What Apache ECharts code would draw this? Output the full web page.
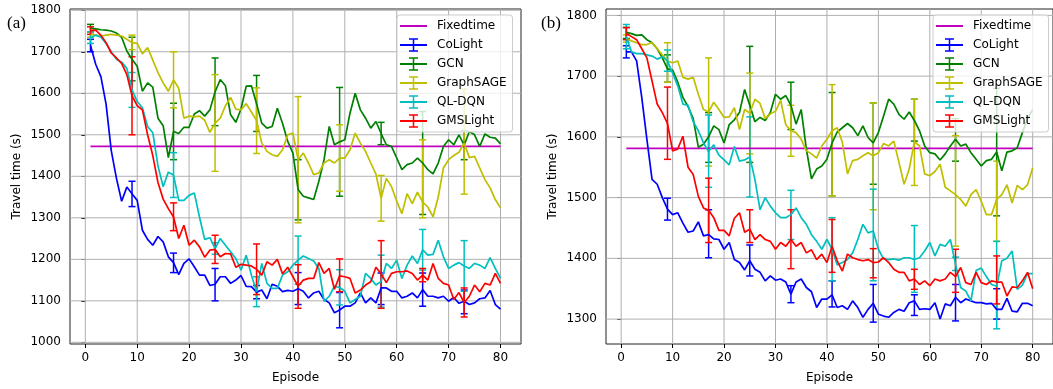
<!DOCTYPE html>
<html><head><meta charset="utf-8">
<script src="https://cdn.jsdelivr.net/npm/echarts@6/dist/echarts.min.js"></script>
<style>html,body{margin:0;padding:0;background:#fff}#c{width:1053px;height:389px}</style>
</head><body><div id="c"></div>
<script>
// ---------------- DATA ----------------
const episodes = [1,2,3,4,5,6,7,8,9,10,11,12,13,14,15,16,17,18,19,20,21,22,23,24,25,26,27,28,29,30,31,32,33,34,35,36,37,38,39,40,41,42,43,44,45,46,47,48,49,50,51,52,53,54,55,56,57,58,59,60,61,62,63,64,65,66,67,68,69,70,71,72,73,74,75,76,77,78,79,80];
const errEpisodes = [1,9,17,25,33,41,49,57,65,73];
const xTicks = [0,10,20,30,40,50,60,70,80];
const yTicksA = [1000,1100,1200,1300,1400,1500,1600,1700,1800];
const yTicksB = [1300,1400,1500,1600,1700,1800];
const seriesNames = ['Fixedtime','CoLight','GCN','GraphSAGE','QL-DQN','GMSLight'];

// Panel (a)
const fixedtimeA = 1472;
const coLightA = [1715,1670,1640,1574,1462,1395,1340,1374,1358,1342,1270,1248,1234,1255,1242,1206,1192,1163,1190,1201,1182,1162,1162,1137,1140,1158,1158,1142,1150,1161,1135,1134,1121,1126,1105,1140,1135,1122,1125,1123,1129,1123,1107,1119,1123,1103,1095,1071,1078,1087,1087,1095,1119,1095,1107,1095,1131,1131,1123,1123,1107,1111,1119,1107,1127,1111,1111,1107,1111,1099,1108,1094,1099,1091,1095,1105,1107,1125,1091,1080];
const gcnA = [1757,1755,1753,1752,1750,1745,1735,1702,1682,1665,1605,1625,1615,1540,1522,1445,1508,1503,1518,1518,1550,1558,1545,1560,1603,1633,1618,1548,1530,1562,1617,1618,1575,1528,1516,1520,1564,1528,1484,1456,1368,1352,1348,1344,1388,1440,1520,1476,1483,1488,1552,1600,1560,1540,1516,1532,1503,1476,1472,1444,1416,1428,1432,1444,1432,1416,1406,1432,1472,1488,1476,1500,1475,1508,1500,1472,1502,1494,1492,1478];
const graphSageA = [1742,1740,1738,1740,1742,1740,1738,1730,1722,1720,1695,1710,1680,1650,1625,1605,1632,1612,1540,1545,1543,1545,1535,1506,1528,1540,1570,1590,1562,1560,1575,1555,1534,1480,1460,1452,1448,1464,1500,1504,1440,1456,1432,1404,1408,1432,1440,1432,1444,1444,1464,1504,1480,1460,1432,1405,1347,1395,1375,1340,1310,1358,1334,1362,1338,1326,1302,1350,1420,1440,1450,1458,1480,1445,1448,1420,1392,1372,1344,1324];
const qlDqnA = [1734,1740,1735,1720,1700,1682,1675,1660,1608,1580,1565,1520,1505,1425,1375,1410,1403,1342,1342,1354,1360,1302,1248,1252,1226,1250,1234,1218,1202,1174,1210,1162,1122,1190,1142,1130,1130,1162,1170,1186,1198,1208,1202,1196,1178,1099,1111,1135,1132,1123,1095,1103,1111,1166,1154,1138,1147,1190,1178,1198,1154,1186,1208,1190,1223,1210,1212,1246,1206,1178,1186,1192,1184,1178,1190,1186,1178,1204,1178,1154];
const gmsLightA = [1751,1752,1740,1722,1697,1685,1672,1645,1594,1570,1560,1500,1450,1385,1345,1322,1302,1250,1282,1234,1246,1230,1205,1222,1224,1206,1214,1213,1181,1188,1186,1184,1176,1162,1194,1186,1200,1165,1181,1158,1135,1150,1154,1154,1192,1166,1178,1128,1160,1158,1154,1119,1126,1138,1146,1181,1165,1144,1166,1170,1170,1172,1166,1150,1162,1150,1190,1154,1142,1138,1103,1120,1096,1111,1138,1122,1142,1138,1166,1142];
const coLightA_lo = [1700,1327,1168,1100,1105,1091,1035,1091,1087,1069];
const coLightA_hi = [1730,1388,1215,1178,1137,1168,1120,1167,1167,1126];
const gcnA_lo = [1748,1630,1440,1522,1508,1295,1352,1476,1308,1440];
const gcnA_hi = [1766,1735,1576,1685,1643,1440,1614,1530,1556,1510];
const graphSageA_lo = [1735,1705,1565,1412,1455,1288,1364,1292,1300,1357];
const graphSageA_hi = [1748,1740,1700,1645,1613,1592,1524,1402,1488,1610];
const qlDqnA_lo = [1720,1566,1349,1212,1086,1140,1090,1085,1174,1123];
const qlDqnA_hi = [1748,1650,1457,1240,1158,1256,1175,1210,1272,1245];
const gmsLightA_lo = [1742,1500,1269,1190,1115,1082,1122,1082,1146,1061];
const gmsLightA_hi = [1760,1688,1336,1258,1237,1187,1201,1245,1178,1131];

// Panel (b)
const fixedtimeB = 1581;
const coLightB = [1740,1740,1725,1665,1596,1530,1522,1500,1481,1472,1475,1458,1443,1445,1460,1437,1439,1432,1431,1415,1426,1398,1393,1381,1396,1382,1377,1363,1371,1364,1366,1361,1341,1361,1366,1352,1345,1319,1333,1333,1340,1319,1322,1316,1330,1319,1303,1316,1326,1308,1305,1303,1311,1316,1313,1327,1330,1316,1317,1316,1327,1300,1325,1322,1336,1327,1333,1330,1327,1327,1325,1326,1316,1316,1334,1313,1312,1326,1326,1322];
const gcnB = [1772,1770,1767,1768,1760,1755,1745,1730,1712,1710,1690,1665,1650,1630,1583,1588,1600,1618,1612,1590,1620,1628,1640,1678,1652,1625,1632,1627,1640,1670,1662,1668,1652,1621,1645,1580,1531,1547,1552,1563,1590,1608,1615,1622,1615,1602,1618,1599,1590,1607,1634,1662,1654,1637,1629,1641,1627,1610,1585,1574,1572,1562,1572,1585,1596,1585,1588,1574,1563,1552,1561,1563,1575,1544,1575,1577,1582,1607,1630,1645];
const graphSageB = [1762,1758,1755,1752,1752,1755,1745,1735,1725,1722,1725,1698,1695,1698,1670,1645,1641,1657,1645,1632,1633,1648,1612,1645,1639,1662,1655,1630,1638,1642,1660,1620,1610,1607,1596,1577,1572,1565,1585,1596,1610,1615,1591,1539,1561,1563,1569,1574,1569,1574,1589,1585,1593,1558,1522,1547,1592,1585,1539,1536,1543,1555,1517,1511,1505,1497,1486,1505,1513,1494,1472,1472,1497,1505,1521,1491,1520,1513,1521,1549];
const qlDqnB = [1765,1740,1737,1737,1735,1733,1728,1732,1725,1705,1684,1654,1652,1625,1610,1590,1576,1587,1570,1562,1554,1584,1560,1562,1567,1530,1480,1500,1486,1475,1467,1467,1472,1483,1467,1456,1439,1428,1415,1431,1415,1389,1393,1398,1409,1431,1456,1442,1445,1415,1399,1398,1399,1397,1401,1401,1398,1401,1412,1426,1404,1423,1420,1431,1390,1352,1346,1330,1380,1384,1370,1357,1354,1396,1400,1412,1349,1356,1375,1375];
const gmsLightB = [1770,1765,1760,1745,1730,1692,1654,1640,1622,1577,1580,1601,1550,1538,1502,1483,1479,1467,1446,1446,1437,1466,1475,1443,1448,1431,1439,1431,1428,1415,1426,1420,1431,1420,1426,1409,1414,1398,1407,1393,1420,1396,1379,1407,1401,1398,1396,1398,1393,1394,1401,1393,1382,1377,1377,1363,1366,1357,1363,1355,1366,1363,1366,1377,1370,1385,1360,1357,1377,1360,1357,1363,1361,1361,1338,1353,1352,1363,1377,1350];
const coLightB_lo = [1730,1463,1401,1371,1327,1320,1295,1306,1297,1300];
const coLightB_hi = [1750,1499,1480,1422,1355,1363,1357,1340,1357,1350];
const gcnB_lo = [1762,1690,1558,1558,1612,1503,1522,1593,1560,1470];
const gcnB_hi = [1780,1735,1640,1749,1690,1673,1656,1662,1630,1680];
const graphSageB_lo = [1756,1690,1552,1572,1568,1503,1480,1520,1420,1428];
const graphSageB_hi = [1768,1755,1730,1705,1652,1686,1656,1662,1602,1560];
const qlDqnB_lo = [1745,1708,1517,1501,1431,1363,1363,1344,1380,1284];
const qlDqnB_hi = [1785,1743,1636,1633,1512,1467,1514,1454,1402,1428];
const gmsLightB_lo = [1760,1563,1426,1426,1383,1377,1368,1349,1344,1325];
const gmsLightB_hi = [1780,1682,1532,1480,1480,1464,1416,1382,1415,1404];

// ---------------- STYLE ----------------
const COLORS = {Fixedtime:'#bf00bf', CoLight:'#0000ff', GCN:'#008000', GraphSAGE:'#bfbf00', 'QL-DQN':'#00bfbf', GMSLight:'#ff0000'};
const FONT = 'DejaVu Sans';
const LW = 1.7;

function errRender(params, api) {
  const x = api.value(0), lo = api.value(1), hi = api.value(2);
  const a = api.coord([x, lo]), b = api.coord([x, hi]);
  const cap = 3.5;
  const st = {stroke: api.visual('color'), lineWidth: 1.5, fill: null};
  return {type:'group', children:[
    {type:'line', shape:{x1:a[0], y1:a[1], x2:b[0], y2:b[1]}, style:st},
    {type:'line', shape:{x1:a[0]-cap, y1:a[1], x2:a[0]+cap, y2:a[1]}, style:st},
    {type:'line', shape:{x1:b[0]-cap, y1:b[1], x2:b[0]+cap, y2:b[1]}, style:st}
  ]};
}
function vGridRender(params, api) {
  const cs = params.coordSys;
  const p = api.coord([api.value(0), api.value(1)]);
  return {type:'line', shape:{x1:p[0], y1:cs.y, x2:p[0], y2:cs.y+cs.height}, style:{stroke:'#b0b0b0', lineWidth:1}};
}
function hGridRender(params, api) {
  const cs = params.coordSys;
  const p = api.coord([api.value(0), api.value(1)]);
  return {type:'line', shape:{x1:cs.x, y1:p[1], x2:cs.x+cs.width, y2:p[1]}, style:{stroke:'#b0b0b0', lineWidth:1}};
}

function lineS(name, vals, gi) {
  return {type:'line', name, xAxisIndex:gi, yAxisIndex:gi, data: episodes.map((e,i)=>[e, vals[i]]),
    symbol:'none', showSymbol:false, lineStyle:{color:COLORS[name], width:LW}, itemStyle:{color:COLORS[name]},
    animation:false, silent:true, z:3};
}
function fixedS(name, v, gi) {
  return {type:'line', name, xAxisIndex:gi, yAxisIndex:gi, data: [[episodes[0], v],[episodes[episodes.length-1], v]],
    symbol:'none', showSymbol:false, lineStyle:{color:COLORS[name], width:LW}, itemStyle:{color:COLORS[name]},
    animation:false, silent:true, z:3};
}
function errS(name, lo, hi, gi) {
  return {type:'custom', name, xAxisIndex:gi, yAxisIndex:gi, data: errEpisodes.map((e,i)=>[e, lo[i], hi[i]]),
    renderItem: errRender, encode:{x:0, y:[1,2]}, itemStyle:{color:COLORS[name]}, animation:false, silent:true, z:3};
}
function gridS(gi, yTicks) {
  return [
    {type:'custom', xAxisIndex:gi, yAxisIndex:gi, data: xTicks.map(v=>[v, yTicks[0]]), renderItem:vGridRender, encode:{x:0,y:1}, animation:false, silent:true, z:1},
    {type:'custom', xAxisIndex:gi, yAxisIndex:gi, data: yTicks.map(v=>[xTicks[0], v]), renderItem:hGridRender, encode:{x:0,y:1}, animation:false, silent:true, z:1}
  ];
}

const SPECK = ' M0 0H0.01V0.01H0Z M26.99 15.99H27V16H26.99Z';
const ICON_LINE = 'path://M0 7.1H27V8.9H0Z' + SPECK;
const ICON_ERR = 'path://M0 7.1H27V8.9H0Z M12.75 2H14.25V14H12.75Z M9 1.25H18V2.75H9Z M9 13.25H18V14.75H9Z' + SPECK;

function legendFor(left) {
  return {
    show:true, orient:'vertical', left, top:15, itemWidth:27, itemHeight:16, itemGap:3,
    padding:[3,6,3,3], backgroundColor:'rgba(255,255,255,0.8)', borderColor:'#cccccc', borderWidth:1, borderRadius:3,
    selectedMode:false, symbolKeepAspect:true, z:20,
    textStyle:{fontFamily:FONT, fontSize:12, color:'#000', padding:[0,0,0,5]},
    data: seriesNames.map(n=>({name:n, icon: n==='Fixedtime' ? ICON_LINE : ICON_ERR}))
  };
}

const plainNum = v => String(Math.round(v));

function xAx(gi) {
  return {type:'value', gridIndex:gi, min:-2.95, max:83.95,
    name:'Episode', nameLocation:'middle', nameGap:28, nameTextStyle:{fontFamily:FONT, fontSize:12, color:'#000'},
    axisLine:{show:false}, splitLine:{show:false},
    axisTick:{show:true, customValues:xTicks, length:4, lineStyle:{color:'#000', width:1}},
    axisLabel:{show:true, customValues:xTicks, formatter:plainNum, fontFamily:FONT, fontSize:12, color:'#000', margin:8}};
}
function yAx(gi, min, max, ticks, gap) {
  return {type:'value', gridIndex:gi, min, max,
    name:'Travel time (s)', nameLocation:'middle', nameGap:gap, nameTextStyle:{fontFamily:FONT, fontSize:12, color:'#000'},
    axisLine:{show:false}, splitLine:{show:false},
    axisTick:{show:true, customValues:ticks, length:4, lineStyle:{color:'#000', width:1}},
    axisLabel:{show:true, customValues:ticks, formatter:plainNum, fontFamily:FONT, fontSize:12, color:'#000', margin:9}};
}

const methods = [
  ['CoLight', coLightA, coLightA_lo, coLightA_hi, coLightB, coLightB_lo, coLightB_hi],
  ['GCN', gcnA, gcnA_lo, gcnA_hi, gcnB, gcnB_lo, gcnB_hi],
  ['GraphSAGE', graphSageA, graphSageA_lo, graphSageA_hi, graphSageB, graphSageB_lo, graphSageB_hi],
  ['QL-DQN', qlDqnA, qlDqnA_lo, qlDqnA_hi, qlDqnB, qlDqnB_lo, qlDqnB_hi],
  ['GMSLight', gmsLightA, gmsLightA_lo, gmsLightA_hi, gmsLightB, gmsLightB_lo, gmsLightB_hi]
];

const series = [];
series.push(...gridS(0, yTicksA), ...gridS(1, yTicksB));
series.push(fixedS('Fixedtime', fixedtimeA, 0));
methods.forEach(m => { series.push(errS(m[0], m[2], m[3], 0)); series.push(lineS(m[0], m[1], 0)); });
series.push(fixedS('Fixedtime', fixedtimeB, 1));
methods.forEach(m => { series.push(errS(m[0], m[5], m[6], 1)); series.push(lineS(m[0], m[4], 1)); });

const option = {
  backgroundColor:'#ffffff',
  animation:false,
  textStyle:{fontFamily:FONT},
  title:[
    {text:'(a)', left:7, top:15, padding:0, textStyle:{fontFamily:'Liberation Serif', fontSize:17, fontWeight:'normal', color:'#000'}},
    {text:'(b)', left:541, top:15, padding:0, textStyle:{fontFamily:'Liberation Serif', fontSize:17, fontWeight:'normal', color:'#000'}}
  ],
  grid:[
    {left:70, top:9, width:451, height:335, show:true, borderColor:'#222', borderWidth:1, backgroundColor:'transparent'},
    {left:606, top:9, width:451, height:336, show:true, borderColor:'#222', borderWidth:1, backgroundColor:'transparent'}
  ],
  xAxis:[xAx(0), xAx(1)],
  yAxis:[yAx(0, 996, 1803, yTicksA, 47), yAx(1, 1259, 1810.5, yTicksB, 47)],
  legend:[legendFor(397), legendFor(933)],
  series
};
const chart = echarts.init(document.getElementById('c'), null, {renderer:'canvas'});
chart.setOption(option);
</script>
</body></html>
